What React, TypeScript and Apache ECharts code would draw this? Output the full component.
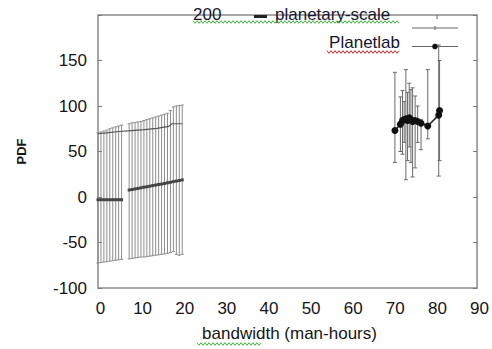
import React, { useEffect, useRef } from "react";
import * as echarts from "echarts";

// planetary-scale series
const psX = [0, 0.7, 1.4, 2.1, 2.8, 3.5, 4.2, 4.9, 5.6, 7.4, 8.1, 8.8, 9.5, 10.2, 10.9, 11.6, 12.3, 13, 13.7, 14.4, 15.1, 15.8, 16.5, 17.2, 17.9, 18.6, 19.3, 20];
const psMean = [-3, -3, -3, -3, -3, -3, -3, -3, -3, 7.7, 8.2, 8.9, 9.4, 10.1, 10.8, 11.2, 11.9, 12.6, 13.1, 13.8, 14.2, 14.9, 15.6, 16.2, 16.9, 17.5, 18.1, 18.8];
const psLow = [-72.5, -72, -71.5, -71, -70.5, -70, -69.5, -69, -68.5, -68, -67.5, -67, -66.5, -66, -66, -65.5, -65, -64.5, -64, -63.5, -63, -62.5, -62, -61, -60, -63, -64, -63];
const psHigh = [70.5, 71.5, 72.5, 73.5, 75, 76, 77, 78, 79, 80.5, 81.5, 82, 82.5, 83, 84, 85, 86, 87, 88, 89, 90, 91, 92, 95, 99, 100, 100.5, 101];
// second (flatter) upper line of the planetary-scale group
const trendX = [0, 2, 5, 8, 11, 14, 16.8, 17.6, 20];
const trendY = [69.5, 70.5, 72, 73, 74, 75.5, 77.6, 80.5, 80.5];

// Planetlab series
const plX = [70.5, 71.8, 72.3, 72.7, 73.1, 73.5, 73.9, 74.3, 74.7, 75.3, 75.9, 76.7, 78.3, 80.9, 81.1];
const plMean = [73, 80, 84, 85, 86, 84, 87, 85, 83, 84, 83, 81, 78, 90, 95];
const plLow = [38, 50, 47, 60, 19, 40, 55, 38, 22, 32, 60, 52, 64, 23, 40];
const plHigh = [137, 110, 117, 105, 140, 115, 125, 118, 120, 111, 100, 85, 140, 167, 150];

const xTicks = [0, 10, 20, 30, 40, 50, 60, 70, 80, 90];
const FONT = "'Liberation Sans', Arial, sans-serif";

function wave(x0: number, x1: number, y: number, color: string) {
  const pts: number[][] = [];
  let up = true;
  for (let x = x0; x <= x1; x += 2) {
    pts.push([x, up ? y - 1.3 : y + 1.3]);
    up = !up;
  }
  return { type: "polyline", shape: { points: pts }, style: { stroke: color, lineWidth: 1, fill: null }, silent: true };
}

function errorSeries(xs: number[], lo: number[], hi: number[], color: string, cap: number) {
  return {
    type: "custom",
    data: xs.map((x, i) => [x, lo[i], hi[i]]),
    encode: { x: 0, y: [1, 2] },
    z: 2,
    renderItem: (params: any, api: any) => {
      const x = api.value(0);
      const p1 = api.coord([x, api.value(1)]);
      const p2 = api.coord([x, api.value(2)]);
      const st = { stroke: color, lineWidth: 1 };
      return {
        type: "group",
        children: [
          { type: "line", shape: { x1: p1[0], y1: p1[1], x2: p2[0], y2: p2[1] }, style: st },
          { type: "line", shape: { x1: p1[0] - cap, y1: p1[1], x2: p1[0] + cap, y2: p1[1] }, style: st },
          { type: "line", shape: { x1: p2[0] - cap, y1: p2[1], x2: p2[0] + cap, y2: p2[1] }, style: st },
        ],
      };
    },
  };
}

export default function App() {
  const ref = useRef<HTMLDivElement>(null);
  useEffect(() => {
    if (!ref.current) return;
    const chart = echarts.init(ref.current, null, { renderer: "svg" });

    const psData: any[] = [];
    psX.forEach((x, i) => {
      if (i > 0 && x - psX[i - 1] > 1) psData.push([(x + psX[i - 1]) / 2, "-"]);
      psData.push([x, psMean[i]]);
    });

    const axisLabelStyle = { color: "#151515", fontSize: 17, fontFamily: FONT };

    chart.setOption({
      animation: false,
      backgroundColor: "#ffffff",
      grid: { left: 98, right: 14, top: 15, bottom: 61, show: true, borderColor: "#8a8a8a", borderWidth: 1.5 },
      xAxis: {
        type: "value",
        min: 0,
        max: 90,
        interval: 10,
        axisLine: { show: false },
        axisTick: { show: false },
        splitLine: { show: false },
        axisLabel: { ...axisLabelStyle, margin: 12, padding: [0, 0, 0, 5], formatter: (v: number) => (xTicks.includes(v) ? String(v) : "") },
        name: "bandwidth (man-hours)",
        nameLocation: "middle",
        nameGap: 37,
        nameTextStyle: { color: "#151515", fontSize: 17, fontFamily: FONT, padding: [0, 0, 0, 4] },
      },
      yAxis: [
        {
          type: "value",
          min: -100,
          max: 200,
          interval: 50,
          axisLine: { show: false },
          axisTick: { show: true, inside: true, length: 4, lineStyle: { color: "#777" } },
          splitLine: { show: false },
          axisLabel: { ...axisLabelStyle, margin: 11, formatter: (v: number) => (v === 200 ? "" : String(v)) },
          name: "PDF",
          nameLocation: "middle",
          nameGap: 70,
          nameTextStyle: { color: "#151515", fontSize: 13, fontWeight: "bold", fontFamily: FONT },
        },
        {
          type: "value",
          position: "right",
          min: -100,
          max: 200,
          interval: 50,
          axisLine: { show: false },
          axisTick: { show: true, inside: true, length: 4, lineStyle: { color: "#777" } },
          splitLine: { show: false },
          axisLabel: { show: false },
        },
      ],
      series: [
        errorSeries(psX, psLow, psHigh, "#8c8c8c", 1.6),
        errorSeries(plX, plLow, plHigh, "#6a6a6a", 2),
        {
          type: "line",
          data: trendX.map((x, i) => [x, trendY[i]]),
          showSymbol: false,
          lineStyle: { color: "#555", width: 1.2 },
          z: 3,
        },
        {
          type: "line",
          data: psData,
          symbol: "rect",
          symbolSize: 3,
          itemStyle: { color: "#444" },
          lineStyle: { color: "#555", width: 2 },
          connectNulls: false,
          z: 4,
        },
        {
          type: "line",
          data: plX.map((x, i) => [x, plMean[i]]),
          symbol: "circle",
          symbolSize: 7,
          itemStyle: { color: "#111" },
          lineStyle: { color: "#222", width: 1.5 },
          z: 5,
        },
      ],
      graphic: [
        { type: "text", left: 193, top: 6, style: { text: "200", fill: "#151530", font: `17px ${FONT}` }, silent: true },
        { type: "rect", shape: { x: 254, y: 15, width: 13, height: 3 }, style: { fill: "#222" }, silent: true },
        { type: "text", left: 275, top: 6, style: { text: "planetary-scale", fill: "#151530", font: `17px ${FONT}` }, silent: true },
        { type: "line", shape: { x1: 412, y1: 28, x2: 458, y2: 28 }, style: { stroke: "#666", lineWidth: 1 }, silent: true },
        { type: "line", shape: { x1: 435, y1: 26, x2: 435, y2: 30 }, style: { stroke: "#666", lineWidth: 1 }, silent: true },
        { type: "line", shape: { x1: 437, y1: 15, x2: 437, y2: 19 }, style: { stroke: "#666", lineWidth: 1 }, silent: true },
        { type: "text", right: 92, top: 34, style: { text: "Planetlab", fill: "#151530", font: `17px ${FONT}` }, silent: true },
        { type: "line", shape: { x1: 412, y1: 46.5, x2: 458, y2: 46.5 }, style: { stroke: "#666", lineWidth: 1 }, silent: true },
        { type: "circle", shape: { cx: 435, cy: 46.5, r: 2.8 }, style: { fill: "#111" }, silent: true },
        wave(193, 400, 22, "#3fb33f"),
        wave(327, 400, 52, "#e02020"),
        wave(197, 262, 344, "#3fb33f"),
      ],
    });
    return () => chart.dispose();
  }, []);
  return <div ref={ref} style={{ position: "fixed", left: 0, top: 0, width: 492, height: 349 }} />;
}
